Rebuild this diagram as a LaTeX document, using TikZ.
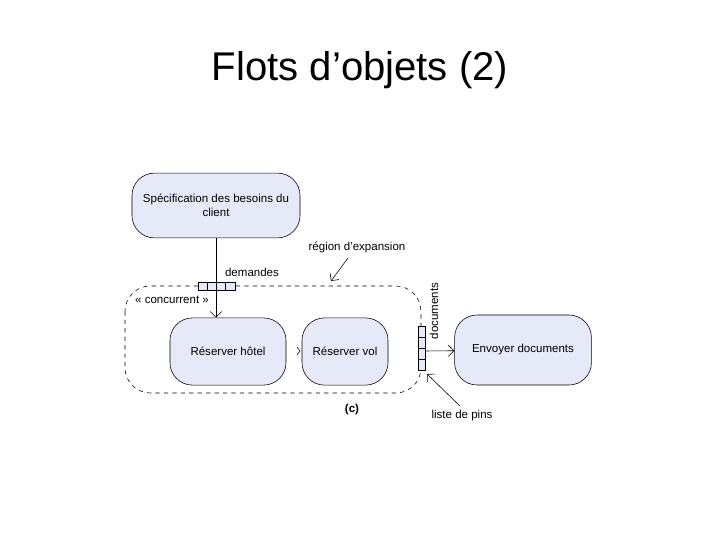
\documentclass[tikz,border=0pt]{standalone}
\usepackage{fontspec}
\setmainfont{Liberation Sans}
\usetikzlibrary{arrows.meta}
\definecolor{actfill}{HTML}{E6EAF8}
\begin{document}
\begin{tikzpicture}[x=0.025cm,y=-0.025cm]
        \tikzset{every node/.style={font=\fontsize{8.2}{10}\selectfont}};
        \tikzset{act/.style={draw,fill=actfill,rounded corners=16pt,align=center}};
        \tikzset{pin/.style={draw,fill=actfill,minimum size=0pt,inner sep=0pt}};
        \useasboundingbox (0,0) rectangle (720,540);
        \node[font=\fontsize{28.5}{32}\selectfont] (title) at (360,70) {Flots d'objets (2)};
        % actions
        \node[act,minimum width=4.2cm,minimum height=1.62cm] (spec) at (216,205.5) {Spécification des besoins du\\client};
        \node[act,minimum width=2.9cm,minimum height=1.68cm] (hotel) at (228,351.5) {Réserver hôtel};
        \node[act,minimum width=2.15cm,minimum height=1.68cm] (vol) at (345,351.5) {Réserver vol};
        \node[act,minimum width=3.42cm,minimum height=1.75cm] (envoi) at (523,350) {Envoyer documents};
        % expansion region
        \draw[dashed,rounded corners=18pt] (125,286) rectangle (421,393);
        % pins
        \foreach \i in {0,1,2,3} {
            \node[pin,minimum width=0.23cm,minimum height=0.2cm] (p\i) at (202.5+\i*9.25,286) {};
            \node[pin,minimum width=0.18cm,minimum height=0.275cm] (q\i) at (421.5,332+\i*11) {};
        }
        \coordinate (pv) at (425,351);
        \coordinate (tip) at (300,351);
        \draw[-{Straight Barb[length=4pt]}] (spec.south) -- (spec.south |- hotel.north);
        \draw[-{Straight Barb[length=4pt]}] (pv) -- (envoi);
        \draw (297,347) -- (tip) -- (297,355);
        % labels
        \node (demandes) at (252,272) {demandes};
        \node (conc) at (172,300) {« concurrent »};
        \node (region) at (357,247) {région d'expansion};
        \node[rotate=90] (docs) at (434,311) {documents};
        \node (c) at (352,410) {\textbf{(c)}};
        \node (liste) at (462,416) {liste de pins};
        \coordinate (r1) at (331,281);
        \coordinate (l1) at (427,374);
        \draw[-{Straight Barb[length=4pt]}] (348,258) -- (r1);
        \draw[-{Straight Barb[length=4pt]}] (460,406) -- (l1);
\end{tikzpicture}
\end{document}
